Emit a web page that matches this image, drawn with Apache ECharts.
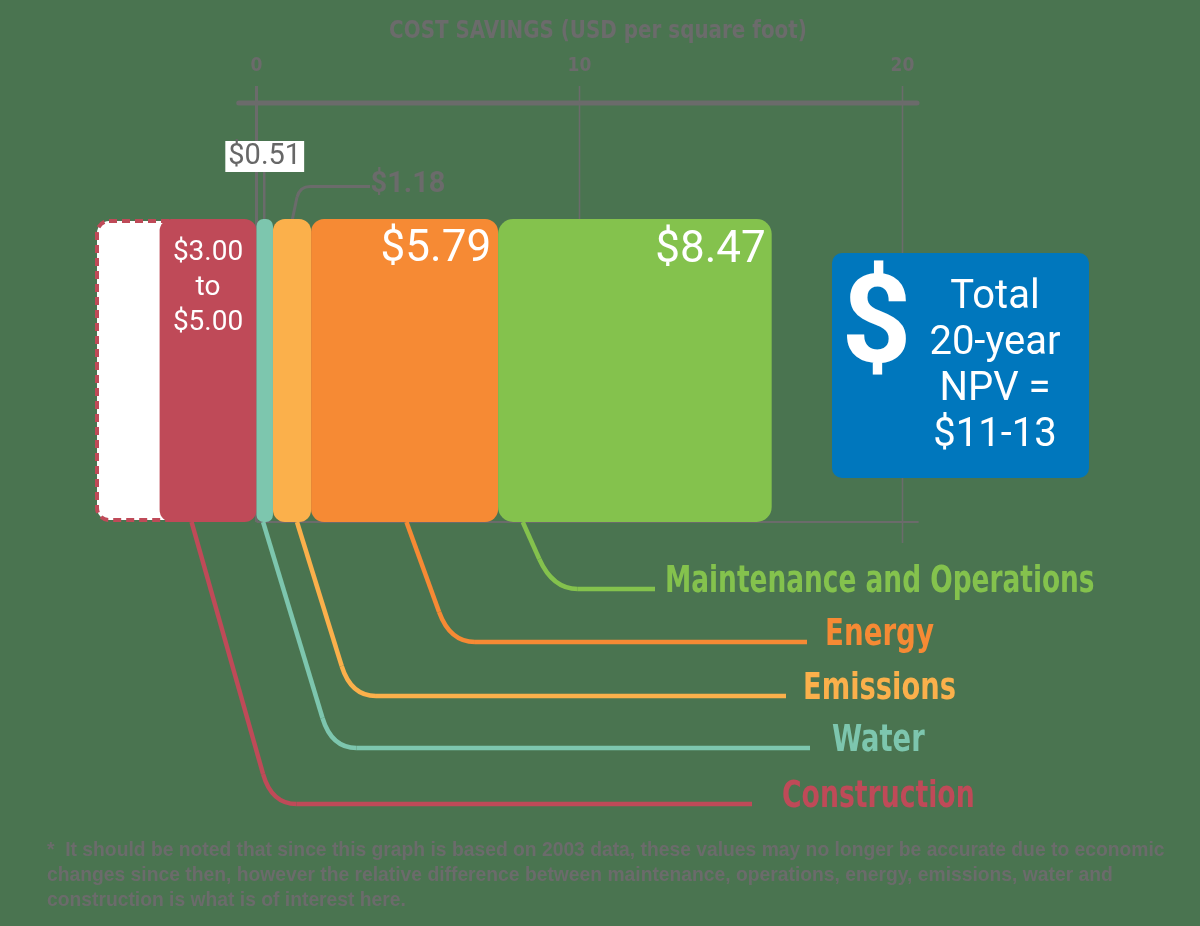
<!DOCTYPE html>
<html>
<head>
<meta charset="utf-8">
<script src="https://cdn.jsdelivr.net/npm/echarts/dist/echarts.min.js"></script>
<style>
html,body{margin:0;padding:0;background:#4a7450;}
#chart{width:1200px;height:926px;}
</style>
</head>
<body>
<div id="chart"></div>
<script>
// ---------- data ----------
const categories = ['Construction', 'Water', 'Emissions', 'Energy', 'Maintenance and Operations'];
const savings = [-3.00, 0.51, 1.18, 5.79, 8.47];          // USD per sq ft
const constructionRange = [-5.00, -3.00];                  // construction premium $3.00 to $5.00
const valueLabels = ['$3.00\nto\n$5.00', '$0.51', '$1.18', '$5.79', '$8.47'];
const tickValues = [0, 10, 20];
const axisTitle = 'COST SAVINGS (USD per square foot)';
const totalSymbol = '$';
const totalLines = ['Total', '20-year', 'NPV =', '$11-13'];
const footnoteLines = [
  '*  It should be noted that since this graph is based on 2003 data, these values may no longer be accurate due to economic',
  'changes since then, however the relative difference between maintenance, operations, energy, emissions, water and',
  'construction is what is of interest here.'
];

// ---------- style ----------
const BG = '#4a7450';
const GRAY = '#6b6b6b';
const colors = ['#bf4a58', '#7dc6ae', '#fbb04b', '#f68a34', '#84c24d'];
const BLUE = '#0077bd';
const NARROW = "'Liberation Sans Narrow', 'DejaVu Sans Condensed', sans-serif";
const NUM = "Roboto, 'Liberation Sans', sans-serif";
const radii = [12, 7, 12, 13, 15];

const chart = echarts.init(document.getElementById('chart'), null, {renderer: 'canvas'});

const barLabels = [
  {show: true, position: 'insideTop', distance: 16, color: '#fff', fontSize: 28, lineHeight: 35, fontFamily: NUM, formatter: valueLabels[0]},
  {show: true, position: 'top', distance: 47, color: '#676767', fontSize: 29, lineHeight: 30, fontFamily: NUM,
   backgroundColor: '#ffffff', padding: [1, 3, 0, 3], formatter: valueLabels[1]},
  {show: true, position: 'top', distance: 20, offset: [116, 0], color: GRAY, fontSize: 29, lineHeight: 29, fontWeight: 'bold', fontFamily: NUM, formatter: valueLabels[2]},
  {show: true, position: 'insideTopRight', distance: 8, offset: [1, 1], color: '#fff', fontSize: 44, lineHeight: 44, fontFamily: NUM, formatter: valueLabels[3]},
  {show: true, position: 'insideTopRight', distance: 9, offset: [3, 1], color: '#fff', fontSize: 44, lineHeight: 44, fontFamily: NUM, formatter: valueLabels[4]}
];

const series = categories.map((name, i) => ({
  name: name,
  type: 'bar',
  stack: 'total',
  barWidth: '100%',
  data: [savings[i]],
  itemStyle: {color: colors[i], borderRadius: radii[i]},
  label: barLabels[i],
  z: 3
}));

series.push({
  name: 'Construction (upper estimate)',
  type: 'custom',
  z: 1,
  data: [[constructionRange[0], constructionRange[1], 0]],
  encode: {x: [0, 1], y: 2},
  renderItem: function (params, api) {
    const p0 = api.coord([api.value(0), api.value(2)]);
    const p1 = api.coord([api.value(1), api.value(2)]);
    const h = api.size([0, 1])[1];
    const top = p0[1] - h / 2;
    return {
      type: 'rect',
      shape: {x: p0[0] + 2, y: top + 2, width: p1[0] - p0[0] + 12, height: h - 4, r: [12, 0, 0, 12]},
      style: {fill: '#ffffff', stroke: colors[0], lineWidth: 4, lineDash: [8, 5]}
    };
  }
});

chart.setOption({
  backgroundColor: BG,
  animation: false,
  grid: {left: 95, right: 136, top: 219, bottom: 404, containLabel: false, outerBoundsMode: 'none'},
  xAxis: {
    type: 'value', min: -5, max: 25, interval: 5, position: 'top', offset: 116,
    axisLine: {show: false}, axisTick: {show: false}, splitLine: {show: false},
    axisLabel: {
      margin: 27, color: GRAY, fontSize: 19, fontWeight: 'bold', fontFamily: NARROW,
      formatter: v => (tickValues.indexOf(v) >= 0 ? String(v) : '')
    }
  },
  yAxis: {type: 'category', data: ['Cost savings'], show: false},
  series: series
});

// ---------- annotations positioned through the x scale ----------
function px(v) { return chart.convertToPixel({xAxisIndex: 0}, v); }
const BAR_TOP = 219, BAR_BOTTOM = 522, AXIS_Y = 103;

// bar extents from the stacked values
const extents = [];
let cum = 0;
savings.forEach(v => { if (v < 0) { extents.push([v, 0]); } else { extents.push([cum, cum + v]); cum += v; } });

const g = [];
function seg(x1, y1, x2, y2, stroke, w, z) {
  g.push({type: 'line', z: z || 0, shape: {x1, y1, x2, y2}, style: {stroke, lineWidth: w, lineCap: 'butt'}});
}
function curve(x1, y1, cx, cy, x2, y2, stroke, w, z) {
  g.push({type: 'bezierCurve', z: z || 0, shape: {x1, y1, x2, y2, cpx1: cx, cpy1: cy}, style: {stroke, lineWidth: w, fill: 'none'}});
}

// top axis line
g.push({type: 'line', z: 0, shape: {x1: px(-0.55), y1: AXIS_Y, x2: px(20.45), y2: AXIS_Y}, style: {stroke: GRAY, lineWidth: 5, lineCap: 'round'}});
// grid ticks
tickValues.forEach((t, k) => {
  seg(px(t), 86, px(t), k === 2 ? 543 : BAR_BOTTOM, GRAY, k === 0 ? 3 : 1.5, 0);
});
// baseline
seg(px(0), BAR_BOTTOM, px(20.5), BAR_BOTTOM, GRAY, 2, 0);
// $0.51 leader
const wMid = (extents[1][0] + extents[1][1]) / 2;
seg(px(wMid) - 0.5, 171, px(wMid) - 0.5, BAR_TOP + 2, GRAY, 2.5, 0);
// $1.18 leader
const eX = px(extents[2][0] + 0.5 * (extents[2][1] - extents[2][0]));
seg(eX, BAR_TOP + 2, eX + 5, 197, GRAY, 3, 0);
curve(eX + 5, 197, eX + 8, 186.5, eX + 18, 186.5, GRAY, 3, 0);
seg(eX + 18, 186.5, 370, 186.5, GRAY, 3, 0);

// category leaders and labels
const anchorFrac = [0.33, 0.4, 0.63, 0.51, 0.09];   // where each leader leaves its bar (fraction from the bar's left end)
const rowY = [804, 748, 696, 642, 589];
const cornerDx = [80, 68.5, 54, 43.5, 30];
const lineEnd = [752, 810, 786, 807, 655];
const textX = [782, 832, 803, 825, 665];
const labelScale = [0.78, 0.8, 0.8, 0.81, 0.772];
categories.forEach((name, i) => {
  const lo = extents[i][0], hi = extents[i][1];
  const sx = px(lo + anchorFrac[i] * (hi - lo));
  const y = rowY[i];
  const cx = sx + cornerDx[i];
  const r = 30;
  const bx = sx + cornerDx[i] * (1 - r / (y - BAR_BOTTOM));
  const by = y - r;
  seg(sx, BAR_BOTTOM, bx, by, colors[i], 4.5, 1);
  curve(bx, by, cx, y, cx + 25, y, colors[i], 4.5, 1);
  seg(cx + 25, y, lineEnd[i], y, colors[i], 4.5, 1);
  g.push({type: 'text', z: 10, x: textX[i], y: y - 6.5, scaleX: labelScale[i],
    style: {text: name, fill: colors[i], fontSize: 38, fontWeight: 'bold', fontFamily: NARROW, align: 'left', verticalAlign: 'middle'}});
});

// axis title
g.push({type: 'text', z: 10, x: 598, y: 31.5, scaleX: 0.885,
  style: {text: axisTitle, fill: GRAY, fontSize: 25, fontWeight: 'bold', fontFamily: NARROW, align: 'center', verticalAlign: 'middle'}});

// total NPV callout
g.push({type: 'rect', z: 5, shape: {x: 832, y: 253, width: 257, height: 225, r: 10}, style: {fill: BLUE}});
g.push({type: 'text', z: 10, x: 876.5, y: 331,
  style: {text: totalSymbol, fill: '#fff', fontSize: 122, fontWeight: 'bold', fontFamily: NUM, align: 'center', verticalAlign: 'middle'}});
g.push({type: 'text', z: 10, x: 995, y: 367,
  style: {text: totalLines.join('\n'), fill: '#fff', fontSize: 40, lineHeight: 46, fontFamily: NUM, align: 'center', verticalAlign: 'middle'}});

// footnote
g.push({type: 'text', z: 10, x: 47, y: 838,
  style: {text: footnoteLines.join('\n'), fill: GRAY, fontSize: 19.3, lineHeight: 25, fontWeight: 'bold', fontFamily: "'Liberation Sans', sans-serif", align: 'left', verticalAlign: 'top'}});

chart.setOption({graphic: {elements: g}});
</script>
</body>
</html>
